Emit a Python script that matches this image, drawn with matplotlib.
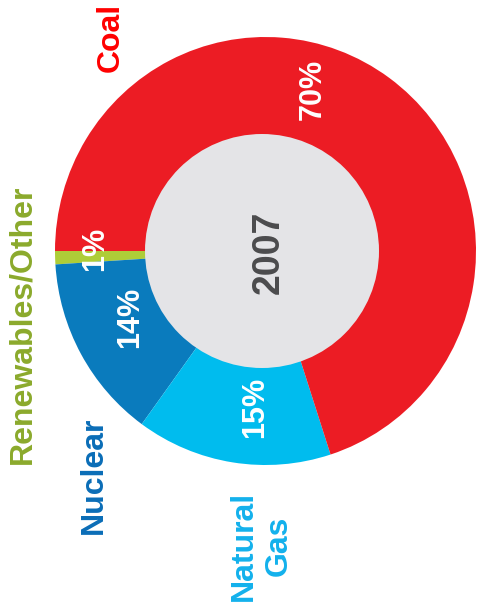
import matplotlib
matplotlib.use("Agg")
import matplotlib.pyplot as plt
from matplotlib.patches import Ellipse
import numpy as np

# Electricity generation mix, 2007
sources = ["Renewables/Other", "Nuclear", "Natural\nGas", "Coal"]
shares = [1, 14, 15, 70]
year = "2007"

ring_colors = ["#AECD38", "#0A7BBD", "#00BCEE", "#EC1C24"]
label_colors = ["#8BAA2C", "#0A6DB7", "#13B1EC", "#FF0000"]

# small angular/radial nudges for the white percentage labels
pct_nudge_deg = [-2.4, -2.9, 5.1, 19.6]
pct_radius = [0.81, 0.716, 0.731, 0.789]
# where the category names sit (data units, radius = 1)
name_xy = [(-1.157, -0.341), (-0.815, -1.047), (-0.021, -1.379), (-0.734, 1.0)]

label_font = ["Liberation Sans", "DejaVu Sans"]
narrow_font = ["Liberation Sans Narrow", "Liberation Sans", "DejaVu Sans"]

# pixel geometry of the canvas: pie centre and horizontal/vertical scale
W, H = 479, 611
cx, cy = 265.5, 251.0
sx, sy = 210.5, 214.0

fig = plt.figure(figsize=(W / 100, H / 100), dpi=100)
ax = fig.add_axes([0, 0, 1, 1])

wedges, _ = ax.pie(shares, colors=ring_colors, startangle=180, counterclock=True,
                   radius=1.0, wedgeprops=dict(linewidth=0))

# grey hub, round on screen
hub_r_px = 117
ax.add_patch(Ellipse((-3.5 / sx, 0), 2 * hub_r_px / sx, 2 * hub_r_px / sy,
                     facecolor="#E4E4E7", edgecolor="none", zorder=3))

for w, share, dth, r in zip(wedges, shares, pct_nudge_deg, pct_radius):
    mid = np.deg2rad((w.theta1 + w.theta2) / 2 + dth)
    ax.text(r * np.cos(mid), r * np.sin(mid), f"{share}%", color="white",
            fontsize=22, fontweight="bold", family=narrow_font,
            rotation=90, ha="center", va="center", zorder=4)

for name, (x, y), c in zip(sources, name_xy, label_colors):
    ax.text(x, y, name, color=c, fontsize=23, fontweight="bold", family=label_font,
            rotation=90, ha="center", va="center", multialignment="center",
            linespacing=1.2, zorder=4)

ax.text(0.017, -0.005, year, color="#4B4B4D", fontsize=27, fontweight="bold",
        family=narrow_font, rotation=90, ha="center", va="center", zorder=5)

ax.set_aspect("auto")
ax.set_xlim(-cx / sx, (W - cx) / sx)
ax.set_ylim((cy - H) / sy, cy / sy)
ax.axis("off")

fig.savefig("out.png", dpi=100, facecolor="white")
